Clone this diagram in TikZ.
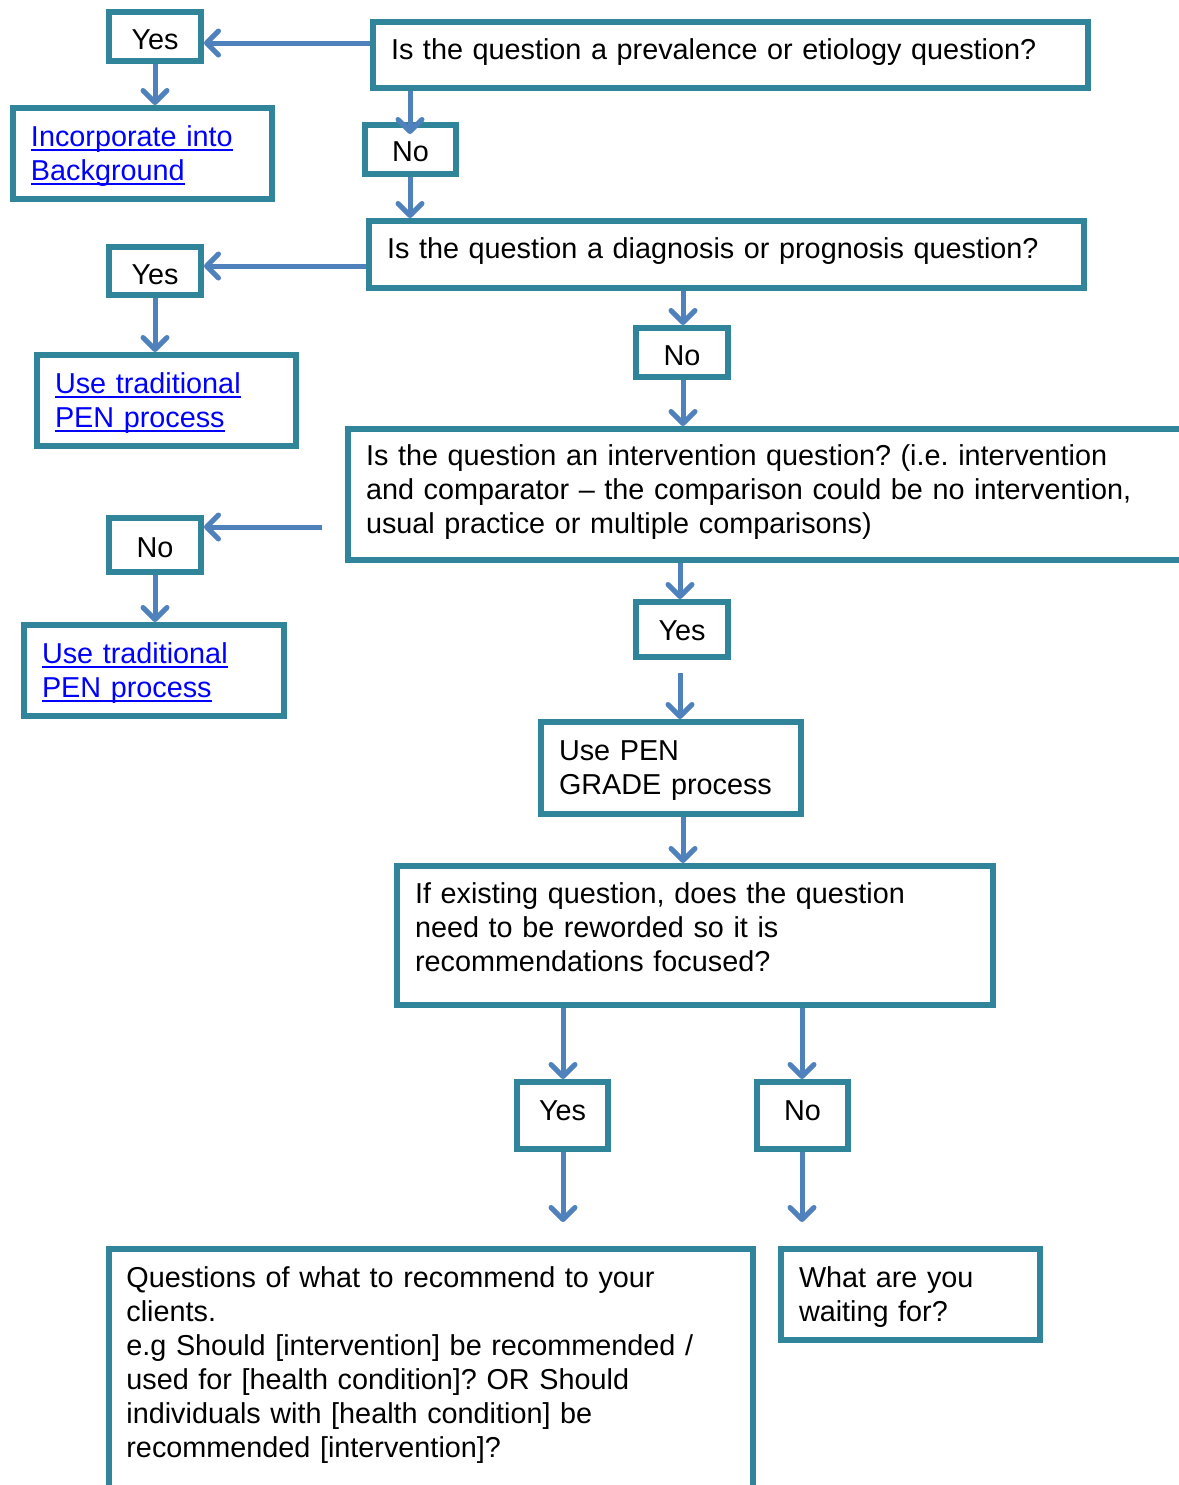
\documentclass[tikz,border=0pt]{standalone}
\usepackage{fontspec}
\setmainfont{Liberation Sans}
\usetikzlibrary{arrows.meta,calc}
\definecolor{boxc}{RGB}{49,133,155}
\definecolor{arrc}{RGB}{79,129,189}
\definecolor{linkc}{RGB}{0,0,255}
\newcommand\lnk[1]{\textcolor{linkc}{\setbox0\hbox{#1}\rlap{\rule[-2.4pt]{\wd0}{0.9pt}}\box0}}
\newcommand\dnstrut[1]{\rule{0pt}{#1}}
\newcommand\upstrut[1]{\rule[-#1]{0pt}{#1}}
\frenchspacing
\begin{document}
\begin{tikzpicture}[x=0.5pt,y=-0.5pt,
  every node/.style={font=\fontsize{14.4pt}{17pt}\selectfont},
  box/.style={draw=boxc, line width=3pt, rectangle, inner ysep=0pt, inner xsep=9pt, align=left},
  lbl/.style={draw=boxc, line width=3pt, rectangle, inner sep=0pt, align=center, text height=12pt, text depth=0pt},
  arr/.style={draw=arrc, line width=2.5pt, -{Straight Barb[length=6pt,width=12pt,round]}},
]
\useasboundingbox (0,0) rectangle (1179,1485);
% boxes
\node[lbl, minimum width=46pt, minimum height=24.5pt, text height=13pt] (y1) at (155,36.5) {Yes};
\node[box, text width=111.5pt, minimum height=45.5pt] (inc) at (142.5,153.5) {\dnstrut{12.5pt}\lnk{Incorporate into}\\\lnk{Background}};
\node[box, text width=339.5pt, minimum height=33pt] (q1) at (730.5,55) {Is the question a prevalence or etiology question?\upstrut{6pt}};
\node[lbl, minimum width=45.5pt, minimum height=24.5pt] (n1) at (410.5,149.5) {No};
\node[box, text width=339.5pt, minimum height=33.5pt] (q2) at (726.5,254.5) {Is the question a diagnosis or prognosis question?\upstrut{6pt}};
\node[lbl, minimum width=46pt, minimum height=24pt, text height=13pt] (y2) at (155,271) {Yes};
\node[box, text width=111.5pt, minimum height=45.5pt] (t1) at (166.5,400.5) {\dnstrut{12.5pt}\lnk{Use traditional}\\\lnk{PEN process}};
\node[lbl, minimum width=46pt, minimum height=24.5pt, text height=13pt] (n2) at (682,352.5) {No};
\node[box, text width=412pt, minimum height=65.5pt] (q3) at (778,494.5) {Is the question an intervention question? (i.e. intervention\\and comparator -- the comparison could be no intervention,\\usual practice or multiple comparisons)\upstrut{5pt}};
\node[lbl, minimum width=46pt, minimum height=27pt] (n3) at (155,545) {No};
\node[box, text width=112pt, minimum height=45.5pt] (t2) at (154,670.5) {\dnstrut{12.5pt}\lnk{Use traditional}\\\lnk{PEN process}};
\node[lbl, minimum width=46pt, minimum height=27.5pt, text height=10.5pt] (y3) at (682,629.5) {Yes};
\node[box, text width=112pt, minimum height=46pt] (pg) at (671,768) {\dnstrut{12.5pt}Use PEN\\GRADE process};
\node[box, text width=280pt, minimum height=69.5pt] (ie) at (695,935.5) {If existing question, does the question\\need to be reworded so it is\\recommendations focused?\upstrut{8pt}};
\node[lbl, minimum width=45.5pt, minimum height=33.5pt, text height=10.3pt, text depth=5pt] (y4) at (562.5,1115.5) {Yes};
\node[lbl, minimum width=45.5pt, minimum height=33.5pt, text height=10.3pt, text depth=5pt] (n4) at (802.5,1115.5) {No};
\node[lbl, minimum width=322pt, minimum height=135.5pt] (qq) at (431,1384.5) {};
\node[anchor=north west, inner sep=0pt, text width=330pt, align=left] (qqt) at (126,1266) {Questions of what to recommend to your\\clients.\\e.g Should [intervention] be recommended /\\used for [health condition]? OR Should\\individuals with [health condition] be\\recommended [intervention]?};
\node[box, text width=111.5pt, minimum height=45.5pt] (wa) at (910.5,1294.5) {\dnstrut{12.5pt}What are you\\waiting for?};
% helper coordinates
\coordinate (r1) at (0,43);
\coordinate (r2) at (0,266);
\coordinate (r3) at (322,527);
\coordinate (c155) at (155,0);
\coordinate (c410) at (410,0);
\coordinate (c683) at (683,0);
\coordinate (c680) at (680,0);
\coordinate (c563) at (563,0);
\coordinate (c802) at (802,0);
\coordinate (e16) at (563,1222);
\coordinate (e17) at (802,1222);
% arrows
\draw[arr] (q1.west |- r1) -- (y1.east |- r1);
\draw[arr] (y1.south -| c155) -- (inc.north -| c155);
\draw[arr] (q1.south -| c410) -- ($(n1.north -| c410)+(0,12)$);
\draw[arr] (n1.south -| c410) -- (q2.north -| c410);
\draw[arr] (q2.west |- r2) -- (y2.east |- r2);
\draw[arr] (y2.south -| c155) -- (t1.north -| c155);
\draw[arr] (q2.south -| c683) -- (n2.north -| c683);
\draw[arr] (n2.south -| c683) -- (q3.north -| c683);
\draw[arr] (r3) -- (n3.east |- r3);
\draw[arr] (n3.south -| c155) -- (t2.north -| c155);
\draw[arr] (q3.south -| c680) -- (y3.north -| c680);
\draw[arr] ($(y3.south -| c680)+(0,13)$) -- (pg.north -| c680);
\draw[arr] (pg.south -| c683) -- (ie.north -| c683);
\draw[arr] (ie.south -| c563) -- (y4.north -| c563);
\draw[arr] (ie.south -| c802) -- (n4.north -| c802);
\draw[arr] (y4.south -| c563) -- (e16);
\draw[arr] (n4.south -| c802) -- (e17);
\end{tikzpicture}
\end{document}
